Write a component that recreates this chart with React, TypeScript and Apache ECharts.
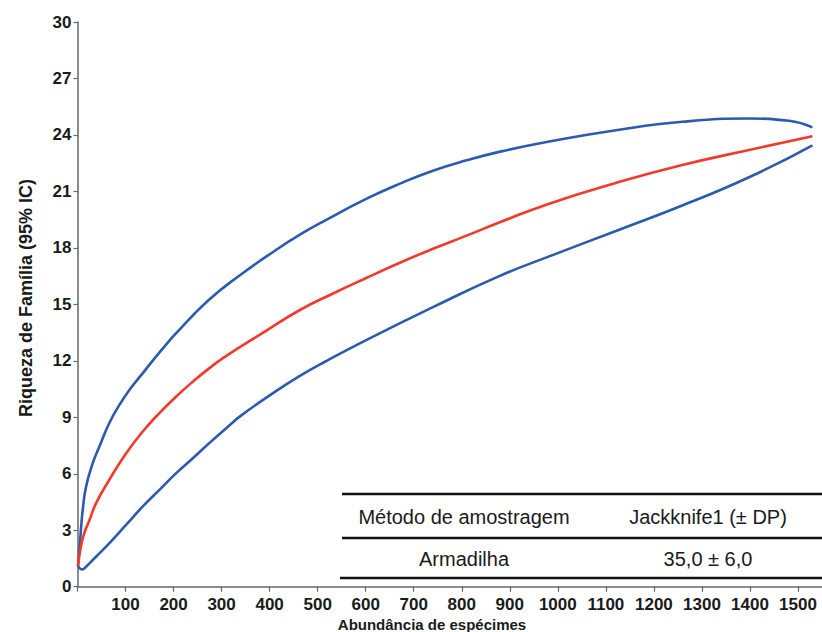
import React, { useEffect, useRef } from "react";
import * as echarts from "echarts";

// Sample sizes (x) and richness values (y)
const meanX = [1, 7, 14, 25, 38.5, 66, 101, 135.5, 170, 205, 240, 274, 309, 390, 463, 530, 601, 670, 740, 810, 878, 982, 1121, 1259, 1398, 1530];
const meanY = [1.1, 2.12, 2.84, 3.54, 4.43, 5.67, 7.08, 8.23, 9.21, 10.09, 10.89, 11.6, 12.25, 13.55, 14.7, 15.55, 16.4, 17.2, 17.95, 18.65, 19.35, 20.35, 21.45, 22.4, 23.2, 23.93];

const upperX = [1, 5, 8, 11, 17.7, 31.6, 45.4, 66, 87, 108, 135.5, 163, 187.5, 203, 272, 341, 411, 463, 515, 601, 670, 740, 810, 878, 982, 1121, 1259, 1398, 1481, 1530];
const upperY = [1.1, 2.3, 3.3, 4.1, 5.3, 6.55, 7.43, 8.68, 9.65, 10.45, 11.33, 12.21, 12.95, 13.4, 15.2, 16.6, 17.85, 18.7, 19.45, 20.6, 21.4, 22.1, 22.65, 23.1, 23.65, 24.25, 24.7, 24.87, 24.75, 24.4];

const lowerX = [1, 5, 10.8, 17.7, 38.5, 66, 101, 135.5, 170, 205, 240, 274, 309, 341, 411, 463, 515, 601, 740, 878, 982, 1121, 1259, 1398, 1530];
const lowerY = [1.1, 0.97, 0.92, 1.06, 1.59, 2.3, 3.28, 4.25, 5.13, 6.02, 6.82, 7.62, 8.41, 9.1, 10.35, 11.2, 11.95, 13.1, 14.85, 16.5, 17.55, 18.9, 20.25, 21.75, 23.45];

const tableHeader = ["Método de amostragem", "Jackknife1 (± DP)"];
const tableRow = ["Armadilha", "35,0 ± 6,0"];

const xTitle = "Abundância de espécimes";
const yTitle = "Riqueza de Família (95% IC)";

const pairs = (xs: number[], ys: number[]) => xs.map((x, i) => [x, ys[i]]);

const BLUE = "#2c5aae";
const RED = "#f23a2c";
const FONT = "'Liberation Sans', Arial, Helvetica, sans-serif";

export default function App() {
  const ref = useRef<HTMLDivElement>(null);
  useEffect(() => {
    if (!ref.current) return;
    const chart = echarts.init(ref.current, null, { renderer: "svg" });
    const lineSeries = (name: string, data: number[][], color: string) => ({
      name,
      type: "line",
      data,
      smooth: 0.5,
      showSymbol: false,
      symbol: "none",
      lineStyle: { color, width: 2.6 },
      z: 3,
    });
    const cell = (text: string, x: number, y: number) => ({
      type: "text",
      x,
      y,
      z: 10,
      style: { text, font: `20px ${FONT}`, fill: "#1a1a1a", textAlign: "center", textVerticalAlign: "middle" },
    });
    chart.setOption({
      animation: false,
      backgroundColor: "#ffffff",
      grid: { left: 77.5, right: -1.5, top: 22, bottom: 45.3, containLabel: false },
      xAxis: {
        type: "value",
        min: 0,
        max: 1550,
        interval: 100,
        splitLine: { show: false },
        axisLine: { lineStyle: { color: "#666", width: 1.5 } },
        axisTick: { length: 5, lineStyle: { color: "#666", width: 1.2 } },
        axisLabel: {
          margin: 9,
          fontSize: 17,
          fontWeight: "bold",
          fontFamily: FONT,
          color: "#1a1a1a",
          showMaxLabel: false,
          formatter: (v: number) => (v === 0 || v % 100 !== 0 ? "" : String(v)),
        },
      },
      yAxis: {
        type: "value",
        min: 0,
        max: 30,
        interval: 3,
        splitLine: { show: false },
        axisLine: { show: true, lineStyle: { color: "#666", width: 1.5 } },
        axisTick: { show: true, length: 4, lineStyle: { color: "#666", width: 1.2 } },
        axisLabel: {
          margin: 6,
          fontSize: 17,
          fontWeight: "bold",
          fontFamily: FONT,
          color: "#1a1a1a",
        },
      },
      series: [
        lineSeries("Limite superior", pairs(upperX, upperY), BLUE),
        lineSeries("Limite inferior", pairs(lowerX, lowerY), BLUE),
        lineSeries("Jackknife1", pairs(meanX, meanY), RED),
      ],
      graphic: [
        {
          type: "text",
          x: 432,
          y: 624,
          style: {
            text: xTitle,
            font: `bold 15px ${FONT}`,
            fill: "#1a1a1a",
            textAlign: "center",
            textVerticalAlign: "middle",
          },
        },
        {
          type: "text",
          x: 26,
          y: 298,
          rotation: Math.PI / 2,
          style: {
            text: yTitle,
            font: `bold 18px ${FONT}`,
            fill: "#1a1a1a",
            textAlign: "center",
            textVerticalAlign: "middle",
          },
        },
        { type: "line", shape: { x1: 342, y1: 494, x2: 822, y2: 494 }, style: { stroke: "#111", lineWidth: 2.6 }, z: 10 },
        { type: "line", shape: { x1: 342, y1: 538, x2: 822, y2: 538 }, style: { stroke: "#111", lineWidth: 2.6 }, z: 10 },
        { type: "line", shape: { x1: 340, y1: 578, x2: 822, y2: 578 }, style: { stroke: "#111", lineWidth: 2.6 }, z: 10 },
        cell(tableHeader[0], 464, 517),
        cell(tableHeader[1], 708, 517),
        cell(tableRow[0], 464, 559),
        cell(tableRow[1], 708, 559),
      ],
    });
    return () => chart.dispose();
  }, []);
  return (
    <div
      ref={ref}
      style={{ width: 822, height: 632, position: "absolute", left: 0, top: 0, background: "#fff" }}
    />
  );
}
